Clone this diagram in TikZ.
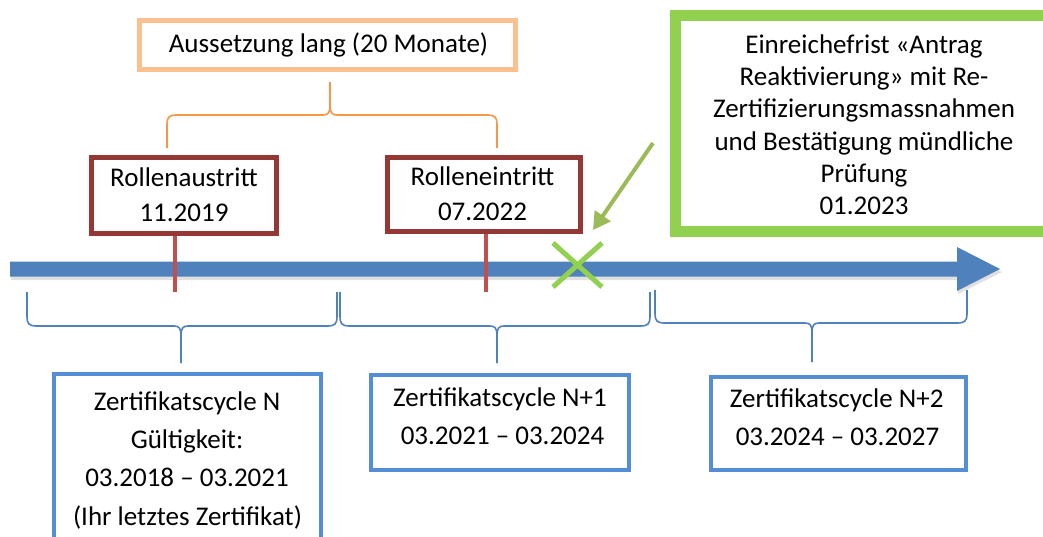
\documentclass[tikz,border=0pt]{standalone}
\usepackage{fontspec}
\setmainfont{Carlito}
\usetikzlibrary{arrows.meta}
\definecolor{arrowblue}{HTML}{4F81BD}
\definecolor{boxblue}{HTML}{558ED5}
\definecolor{darkred}{HTML}{953735}
\definecolor{tickred}{HTML}{C0504D}
\definecolor{lightorange}{HTML}{FAC090}
\definecolor{braceorange}{HTML}{F79646}
\definecolor{xgreen}{HTML}{92D050}
\definecolor{arrowgreen}{HTML}{9BBB59}
% curly brace: x1, xm, x2, yend, yhoriz, ytip, dir, style
\newcommand\curlybrc[8]{%
  \draw[#8] (#1,#4) -- (#1,{#5-10*(#7)}) .. controls (#1,{#5-2*(#7)}) and ({#1+2},#5) .. ({#1+10},#5)
    -- ({#2-7},#5) .. controls ({#2-2},#5) and (#2,{#5+2*(#7)}) .. (#2,{#5+10*(#7)}) -- (#2,#6);
  \draw[#8] (#2,{#5+10*(#7)}) .. controls (#2,{#5+2*(#7)}) and ({#2+2},#5) .. ({#2+7},#5)
    -- ({#3-10},#5) .. controls ({#3-2},#5) and (#3,{#5-2*(#7)}) .. (#3,{#5-10*(#7)}) -- (#3,#4);
}
\begin{document}
\begin{tikzpicture}[x=0.75pt,y=-0.75pt,
  lbl/.style={inner sep=0pt, anchor=base, font=\fontsize{20.25}{24}\selectfont, text=black},
  box/.style={draw, rectangle, inner sep=0pt},
  redbox/.style={box, draw=darkred, line width=3.75pt},
  bluebox/.style={box, draw=boxblue, line width=3pt},
  tick/.style={draw=tickred, line width=3pt},
  bluebrace/.style={draw=arrowblue, line width=1.2pt},
  orangebrace/.style={draw=braceorange, line width=1.2pt}]
\clip (0,0) rectangle (1043,536);
\fill[white] (0,0) rectangle (1043,536);

% timeline arrow with soft shadow
\fill[black, opacity=0.12] (11,264) -- (958,264) -- (958,250) -- (1002,272) -- (958,294) -- (958,280) -- (11,280) -- cycle;
\fill[arrowblue] (10,261.5) -- (957,261.5) -- (957,247) -- (1000,269) -- (957,291) -- (957,276.5) -- (10,276.5) -- cycle;

% orange box and brace
\node[box, draw=lightorange, line width=3.75pt, minimum width=282pt, minimum height=36.75pt] (orb) at (327.5,45) {};
\node[lbl] (tOr) at (328.5,52.7) {Aussetzung lang (20 Monate)};
\curlybrc{167}{330}{497}{148}{115}{82}{-1}{orangebrace}

% red ticks
\coordinate (tA) at (175,292);
\coordinate (tB) at (486,292);
% red boxes
\node[redbox, minimum width=138.75pt, minimum height=57pt] (rA) at (184,195.5) {};
\node[redbox, minimum width=144.75pt, minimum height=55.5pt] (rB) at (484,194.5) {};
\draw[tick] (rA.south -| tA) -- (tA);
\draw[tick] (rB.south -| tB) -- (tB);
\node[lbl] (tA1) at (184,186.7) {Rollenaustritt};
\node[lbl] (tA2) at (184,221.7) {11.2019};
\node[lbl] (tB1) at (482.5,185.7) {Rolleneintritt};
\node[lbl] (tB2) at (482.5,220) {07.2022};

% green X and arrow
\coordinate (X) at (577.5,265);
\draw[xgreen, line width=3.75pt] (X) ++(-24.5,-22) -- ++(49,44);
\draw[xgreen, line width=3.75pt] (X) ++(24.5,-22) -- ++(-49,44);
\coordinate (gs) at (653,143);
\coordinate (ge) at (593,230);
\draw[arrowgreen, line width=3pt, -{Triangle[length=13pt,width=14pt]}] (gs) -- (ge);

% green box
\node[box, draw=xgreen, line width=8.25pt, minimum width=282.75pt, minimum height=162pt] (gb) at (864,123.5) {};
\node[lbl] (g1) at (864,53.3) {Einreichefrist «Antrag};
\node[lbl] (g2) at (864,85.6) {Reaktivierung» mit Re-};
\node[lbl] (g3) at (864,117.9) {Zertifizierungsmassnahmen};
\node[lbl] (g4) at (864,150.2) {und Bestätigung mündliche};
\node[lbl] (g5) at (864,182.5) {Prüfung};
\node[lbl] (g6) at (864,214.8) {01.2023};

% blue braces
\curlybrc{27}{181}{337}{292}{326}{363}{1}{bluebrace}
\curlybrc{340}{497}{650}{292}{326}{363}{1}{bluebrace}
\curlybrc{655}{812}{967}{290}{323}{362}{1}{bluebrace}

% blue boxes
\node[bluebox, minimum width=200.25pt, minimum height=139.5pt] (b1) at (187.5,467) {};
\node[lbl] (b1a) at (187,410) {Zertifikatscycle N};
\node[lbl] (b1b) at (187,448.3) {Gültigkeit:};
\node[lbl] (b1c) at (187,486.6) {03.2018 – 03.2021};
\node[lbl] (b1d) at (187.5,525) {(Ihr letztes Zertifikat)};

\node[bluebox, minimum width=193.5pt, minimum height=71.25pt] (b2) at (500,422.5) {};
\node[lbl] (b2a) at (500,406.7) {Zertifikatscycle N+1};
\node[lbl] (b2b) at (502.5,444) {03.2021 – 03.2024};

\node[bluebox, minimum width=191.25pt, minimum height=69.75pt] (b3) at (838.5,423.5) {};
\node[lbl] (b3a) at (836.7,407.7) {Zertifikatscycle N+2};
\node[lbl] (b3b) at (837.5,445) {03.2024 – 03.2027};
\end{tikzpicture}
\end{document}
